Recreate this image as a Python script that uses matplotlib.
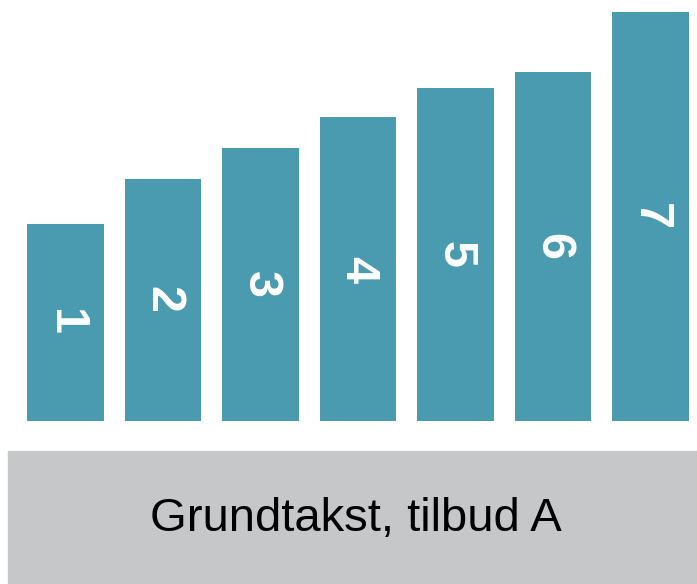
import matplotlib.pyplot as plt
from matplotlib.patches import Rectangle

# data
labels = ["1", "2", "3", "4", "5", "6", "7"]
values = [197, 242, 273, 304, 333, 349, 409]
caption = "Grundtakst, tilbud A"

teal = "#4a9baf"
grey = "#c6c7c9"

W, H = 697, 584
fig = plt.figure(figsize=(W / 100, H / 100), dpi=100)

# bar area: bottom at y=421px from top, up to top of figure
ax = fig.add_axes([0, (H - 421) / H, 1, 421 / H])
step = 97.5
c0 = 65.5
ax.set_xlim(-c0 / step, (W - c0) / step)
ax.set_ylim(0, 421)
ax.axis("off")

x = range(len(values))
ax.bar(x, values, width=0.78, color=teal, edgecolor="none")
for i, v in enumerate(values):
    ax.text(i, v / 2, labels[i], rotation=-90, ha="center", va="center",
            color="white", fontsize=35, fontweight="bold",
            family=["Liberation Sans Narrow", "Liberation Sans"])

# grey band with caption
fig.patches.append(Rectangle((8 / W, 0), (W - 8) / W, (H - 451) / H,
                             transform=fig.transFigure, color=grey, zorder=0))
fig.text(355.5 / W, (H - 519) / H, caption, ha="center", va="center",
         fontsize=34, family="Liberation Sans", color="black")

fig.savefig("out.png", dpi=100)
